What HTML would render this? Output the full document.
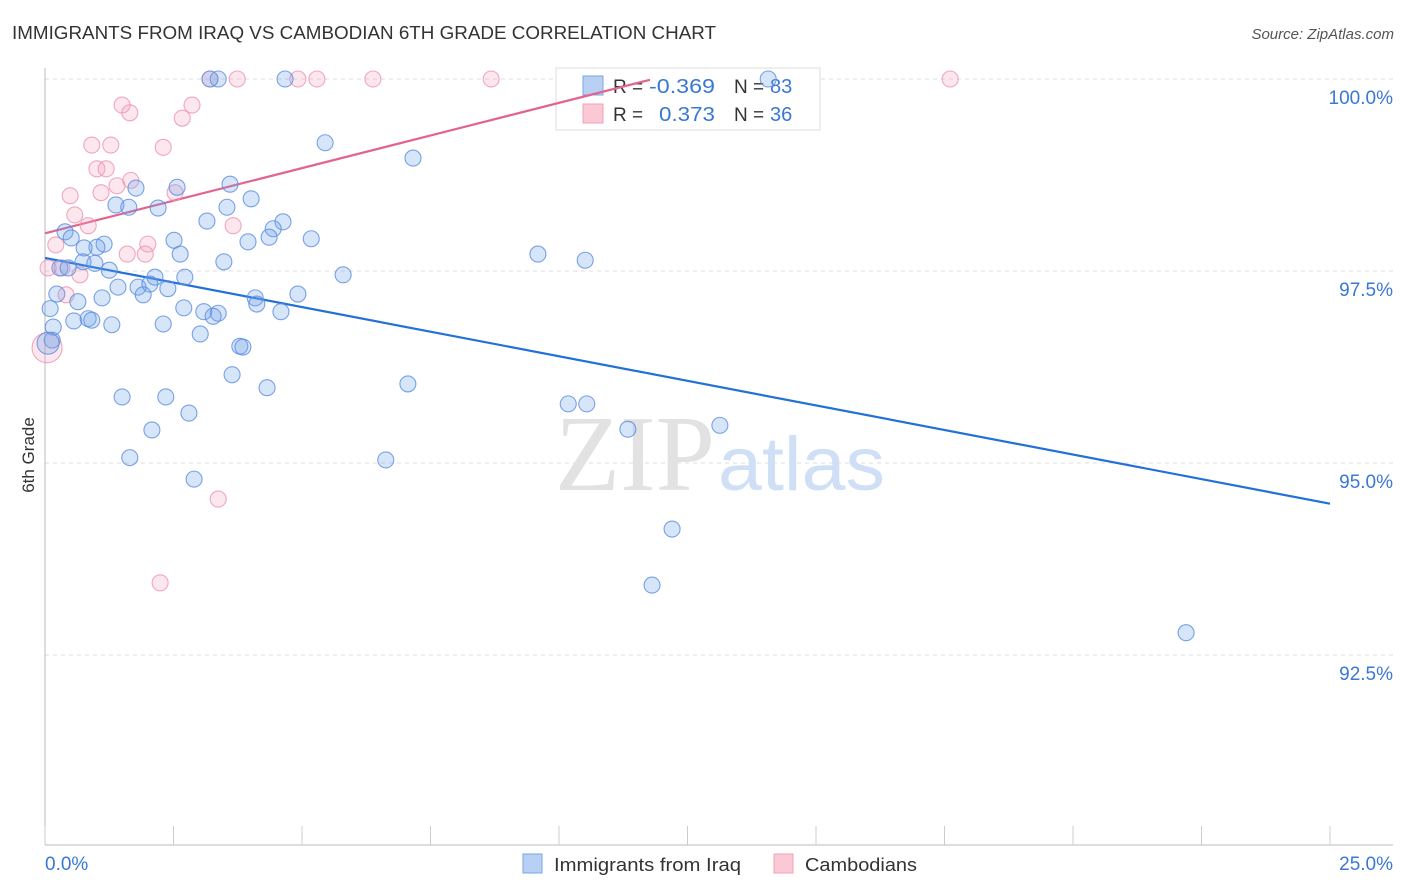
<!DOCTYPE html>
<html><head><meta charset="utf-8">
<style>
body{margin:0;background:#fff;font-family:"Liberation Sans",sans-serif;}
svg{display:block}
</style></head>
<body>
<svg id="chart" width="1406" height="892" viewBox="0 0 1406 892">
<text x="12" y="39" font-size="18.5" fill="#333" textLength="704" lengthAdjust="spacingAndGlyphs">IMMIGRANTS FROM IRAQ VS CAMBODIAN 6TH GRADE CORRELATION CHART</text>
<text x="1394" y="39" font-size="15" fill="#555" font-style="italic" text-anchor="end">Source: ZipAtlas.com</text>
<g id="grid"></g>
<g id="axes"></g>
<text x="715" y="490" font-size="108" font-family="Liberation Serif,serif" fill="#e2e2e2" text-anchor="end" textLength="160" lengthAdjust="spacingAndGlyphs">ZIP</text>
<text x="718" y="490" font-size="76" fill="#cfe0f6" textLength="167" lengthAdjust="spacingAndGlyphs">atlas</text>
<text transform="translate(34,455) rotate(-90)" font-size="17" fill="#333" text-anchor="middle">6th Grade</text>
<g>
<rect x="556" y="68" width="264" height="62" fill="#fff" stroke="#ddd"/>
<rect x="583" y="76" width="20" height="19" fill="#b8d0f4" stroke="#7aa5e3"/>
<rect x="583" y="104" width="20" height="19" fill="#fbc8d6" stroke="#eda3ba"/>
<text x="613" y="93" font-size="19" fill="#333">R =</text>
<text x="649" y="93" font-size="20" fill="#3a78d6" textLength="66" lengthAdjust="spacingAndGlyphs">-0.369</text>
<text x="734" y="93" font-size="19" fill="#333">N =</text>
<text x="770" y="93" font-size="20" fill="#3a78d6">83</text>
<text x="613" y="121" font-size="19" fill="#333">R =</text>
<text x="659" y="121" font-size="20" fill="#3a78d6" textLength="56" lengthAdjust="spacingAndGlyphs">0.373</text>
<text x="734" y="121" font-size="19" fill="#333">N =</text>
<text x="770" y="121" font-size="20" fill="#3a78d6">36</text>
</g>
<g id="lines"></g>
<g id="pts"></g>
<g>
<rect x="523" y="854" width="19" height="19" fill="#b8d0f4" stroke="#7aa5e3"/>
<text x="554" y="871" font-size="18.5" fill="#333" textLength="187" lengthAdjust="spacingAndGlyphs">Immigrants from Iraq</text>
<rect x="774" y="854" width="19" height="19" fill="#fbc8d6" stroke="#eda3ba"/>
<text x="805" y="871" font-size="18.5" fill="#333" textLength="112" lengthAdjust="spacingAndGlyphs">Cambodians</text>
</g>
</svg>
<script>
const yTicks=[100,97.5,95,92.5];
const yTickLabels=["100.0%","97.5%","95.0%","92.5%"];
const xTickLabels=["0.0%","25.0%"];
const iraqX=[3.21,3.37,4.67,14.07,5.45,7.16,1.77,2.57,3.60,4.01,1.38,1.63,2.20,3.54,3.15,4.63,4.44,0.39,0.51,1.15,1.01,2.51,3.95,4.36,5.18,9.59,10.51,2.63,3.48,0.76,0.74,0.97,0.29,0.45,1.25,2.14,2.72,5.80,1.42,1.81,2.04,2.39,1.91,4.09,4.92,0.23,1.11,0.64,0.10,2.70,3.09,3.37,3.27,4.12,4.59,0.56,0.84,0.91,1.30,2.30,3.02,0.16,0.14,3.79,3.85,3.64,4.32,7.06,1.50,2.35,2.80,10.18,10.54,2.08,11.34,13.13,1.65,6.63,2.90,12.20,11.81,22.20,0.06];
const iraqY=[100,100,100,100,99.17,98.97,98.58,98.59,98.63,98.44,98.36,98.33,98.32,98.33,98.15,98.14,98.05,98.01,97.93,97.85,97.81,97.90,97.88,97.94,97.92,97.72,97.64,97.72,97.62,97.80,97.62,97.60,97.54,97.54,97.51,97.42,97.42,97.45,97.29,97.29,97.33,97.27,97.19,97.15,97.20,97.20,97.15,97.10,97.01,97.02,96.97,96.95,96.91,97.07,96.97,96.85,96.88,96.86,96.80,96.81,96.68,96.77,96.60,96.52,96.51,96.15,95.98,96.03,95.86,95.86,95.65,95.77,95.77,95.43,95.44,95.49,95.07,95.04,94.79,94.14,93.41,92.79,96.56];
const camX=[3.21,3.74,4.92,5.29,6.38,8.68,17.61,1.50,1.65,2.86,2.67,0.91,1.28,2.30,1.01,1.19,1.67,1.40,1.09,0.49,2.53,0.58,0.84,3.66,0.21,2.00,1.60,1.95,0.68,0.33,0.06,0.41,3.37,2.24,0.04];
const camY=[100,100,100,100,100,100,100,99.66,99.56,99.66,99.49,99.14,99.14,99.11,98.83,98.83,98.68,98.61,98.52,98.48,98.52,98.23,98.09,98.09,97.84,97.85,97.72,97.72,97.45,97.54,97.54,97.19,94.53,93.44,96.50];
const iraqFit=[97.67,94.47];
const camFit=[97.99,99.99];const camFitEnd=11.77;
const NS="http://www.w3.org/2000/svg";
const X0=45,X1=1330,Y100=79,PX=76.8;
function sx(v){return X0+(v/25)*(X1-X0);}
function sy(v){return Y100+(100-v)*PX;}
function mk(tag,attrs,parent){const e=document.createElementNS(NS,tag);for(const k in attrs)e.setAttribute(k,attrs[k]);parent.appendChild(e);return e;}
const grid=document.getElementById('grid'),axes=document.getElementById('axes');
yTicks.forEach((t,i)=>{
 const l=mk('line',{x1:X0,x2:1393,y1:sy(t),y2:sy(t),stroke:'#ddd','stroke-dasharray':'4,4'},grid);
 
 
 const tx=mk('text',{x:1393,y:sy(t)+25,'font-size':19,fill:'#3a78d6','text-anchor':'end'},axes);
 tx.textContent=yTickLabels[i];
 
 
});
mk('line',{x1:X0,x2:X0,y1:68,y2:845,stroke:'#bbb'},axes);
mk('line',{x1:X0,x2:1393,y1:845,y2:845,stroke:'#bbb'},axes);
for(let i=0;i<=10;i++){
 const t=mk('line',{x1:sx(i*2.5),x2:sx(i*2.5),y1:826,y2:845,stroke:'#ccc'},axes);
 
 
}
[[0,'start',45],[25,'end',1393]].forEach((a,i)=>{
 const tx=mk('text',{x:a[2],y:870,'font-size':19,fill:'#3a78d6','text-anchor':a[1]},axes);
 tx.textContent=xTickLabels[i];
 
 
});
const pts=document.getElementById('pts');
function dot(x,y,r,fill,stroke,name){
 const c=mk('circle',{cx:sx(x),cy:sy(y),r:r,fill:fill,stroke:stroke,'stroke-width':1.1},pts);
 
 
}
camX.forEach((x,i)=>dot(x,camY[i],i==camX.length-1?15:8,'rgba(245,160,188,0.25)','rgba(236,140,170,0.75)','point-cambodians'));
iraqX.forEach((x,i)=>dot(x,iraqY[i],i==iraqX.length-1?11:8,'rgba(110,160,235,0.28)','rgba(90,140,225,0.8)','point-iraq'));
const lines=document.getElementById('lines');
const bl=mk('line',{x1:sx(0),y1:sy(iraqFit[0]),x2:sx(25),y2:sy(iraqFit[1]),stroke:'#2270d8','stroke-width':2.2},lines);


const pl=mk('line',{x1:sx(0),y1:sy(camFit[0]),x2:sx(camFitEnd),y2:sy(camFit[1]),stroke:'#e2658f','stroke-width':2.2},lines);


</script>
</body></html>
